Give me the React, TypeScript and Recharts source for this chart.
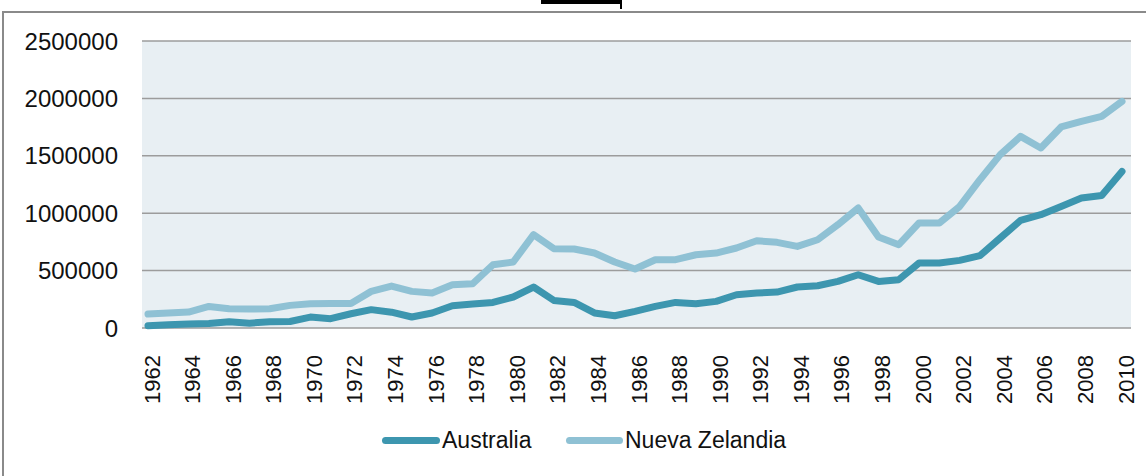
import React from 'react';
import { LineChart, Line, XAxis, YAxis, CartesianGrid } from 'recharts';

// Years on the category axis
const years = [
  1962, 1963, 1964, 1965, 1966, 1967, 1968, 1969, 1970, 1971, 1972, 1973, 1974,
  1975, 1976, 1977, 1978, 1979, 1980, 1981, 1982, 1983, 1984, 1985, 1986, 1987,
  1988, 1989, 1990, 1991, 1992, 1993, 1994, 1995, 1996, 1997, 1998, 1999, 2000,
  2001, 2002, 2003, 2004, 2005, 2006, 2007, 2008, 2009, 2010,
];

// Values
const australia = [
  20000, 29000, 35000, 40000, 55000, 42000, 55000, 57000, 95000, 81000, 124000,
  160000, 138000, 96000, 131000, 194000, 209000, 223000, 270000, 357000, 240000,
  223000, 131000, 107000, 145000, 188000, 223000, 212000, 232000, 290000, 305000,
  313000, 357000, 368000, 406000, 464000, 406000, 421000, 566000, 566000, 589000,
  630000, 784000, 937000, 987000, 1059000, 1132000, 1155000, 1364000,
];

const nuevaZelandia = [
  122000, 130000, 139000, 188000, 168000, 165000, 168000, 197000, 212000, 214000,
  214000, 319000, 365000, 319000, 305000, 377000, 386000, 551000, 575000, 813000,
  691000, 688000, 653000, 575000, 514000, 595000, 595000, 638000, 653000, 697000,
  760000, 746000, 711000, 769000, 900000, 1045000, 793000, 726000, 915000, 915000,
  1059000, 1292000, 1510000, 1669000, 1568000, 1751000, 1800000, 1843000, 1974000,
];

const yTicks = [0, 500000, 1000000, 1500000, 2000000, 2500000];

const DARK = '#3d96af';
const LIGHT = '#8fc1d4';
const FONT = '"Liberation Sans", Arial, sans-serif';

const data = years.map((y, i) => ({
  year: String(y),
  australia: australia[i],
  nz: nuevaZelandia[i],
}));

function YTick({ x, y, payload }: { x?: number; y?: number; payload?: { value: number } }) {
  return (
    <text
      x={(x ?? 0) - 16}
      y={y}
      textAnchor="end"
      dominantBaseline="central"
      fontSize={24}
      fontFamily={FONT}
      fill="#111"
    >
      {payload?.value}
    </text>
  );
}

function XTick({ x, y, payload }: { x?: number; y?: number; payload?: { value: string } }) {
  const tx = (x ?? 0) + 4;
  const ty = (y ?? 0) + 19;
  return (
    <text
      x={tx}
      y={ty}
      transform={`rotate(-90 ${tx} ${ty})`}
      textAnchor="end"
      dominantBaseline="central"
      fontSize={22}
      fontFamily={FONT}
      fill="#111"
    >
      {payload?.value}
    </text>
  );
}

function LegendItem({ color, label, left, width }: { color: string; label: string; left: number; width: number }) {
  return (
    <div style={{ position: 'absolute', left, top: 427, display: 'flex', alignItems: 'center' }}>
      <span
        style={{
          display: 'inline-block',
          width,
          height: 7,
          borderRadius: 4,
          background: color,
        }}
      />
      <span style={{ fontFamily: FONT, fontSize: 23, color: '#111', marginLeft: 2 }}>{label}</span>
    </div>
  );
}

export default function App() {
  return (
    <div
      style={{
        position: 'fixed',
        left: 0,
        top: 0,
        width: 1146,
        height: 476,
        background: '#fff',
        overflow: 'hidden',
      }}
    >
      {/* frame around the chart, only top and left edges are visible */}
      <div
        style={{
          position: 'absolute',
          left: 2,
          top: 11,
          width: 1150,
          height: 470,
          borderTop: '2px solid #8a8a8a',
          borderLeft: '2px solid #8a8a8a',
        }}
      />
      {/* stray black mark at the top */}
      <div style={{ position: 'absolute', left: 541, top: 0, width: 81, height: 4, background: '#000' }} />
      <div style={{ position: 'absolute', left: 620, top: 0, width: 2, height: 9, background: '#000' }} />

      <div style={{ position: 'absolute', left: 0, top: 0 }}>
        <LineChart
          width={1146}
          height={476}
          data={data}
          margin={{ top: 41, right: 15, bottom: 68, left: 0 }}
        >
          <CartesianGrid
            vertical={false}
            fill="#e8eff3"
            stroke="#9c9c9c"
            strokeWidth={1.5}
          />
          <XAxis
            dataKey="year"
            height={80}
            interval={1}
            padding={{ left: 6, right: 9 }}
            axisLine={false}
            tickLine={false}
            tick={<XTick />}
          />
          <YAxis
            width={142}
            domain={[0, 2500000]}
            ticks={yTicks}
            axisLine={false}
            tickLine={false}
            tick={<YTick />}
          />
          <Line
            dataKey="nz"
            stroke={LIGHT}
            strokeWidth={7}
            dot={false}
            strokeLinejoin="round"
            strokeLinecap="round"
            isAnimationActive={false}
          />
          <Line
            dataKey="australia"
            stroke={DARK}
            strokeWidth={7}
            dot={false}
            strokeLinejoin="round"
            strokeLinecap="round"
            isAnimationActive={false}
          />
        </LineChart>
      </div>

      <LegendItem color={DARK} label="Australia" left={382} width={58} />
      <LegendItem color={LIGHT} label="Nueva Zelandia" left={566} width={57} />
    </div>
  );
}
